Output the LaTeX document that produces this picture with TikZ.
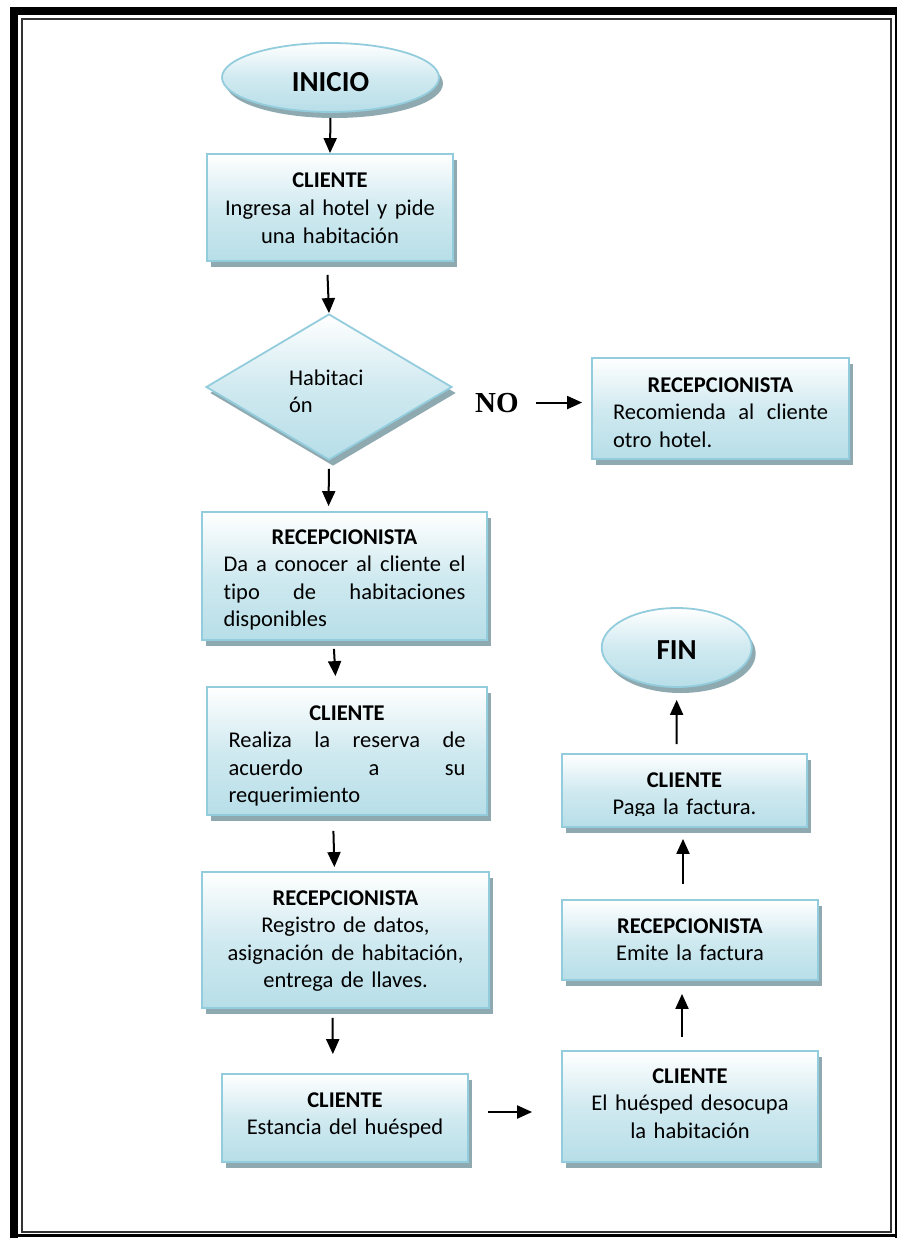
\documentclass[tikz,border=0pt]{standalone}
\usepackage{fontspec}
\setmainfont{Carlito}[Ligatures=NoCommon]
\newfontfamily\serifbold{Liberation Serif}
\usetikzlibrary{shapes.geometric,shadows,arrows.meta}

\definecolor{boxedge}{HTML}{93CDDD}
\definecolor{boxbot}{HTML}{B7DEE8}
\colorlet{boxmid}{boxbot!65!white}
\definecolor{boxshadow}{RGB}{142,169,176}

% one line of text spread over the full width of its paragraph
\newcommand{\fullline}[1]{\leavevmode\hbox to \linewidth{#1}}
% one line of text set flush left
\newcommand{\leftpart}[1]{\makebox[\linewidth][l]{#1}}

\tikzset{
  boxfont/.style={font=\fontsize{22.5pt}{27.6pt}\selectfont},
  flowshape/.style={draw=boxedge, line width=1.8pt, inner sep=0pt,
    top color=white, bottom color=boxbot, middle color=boxmid,
    general shadow={fill=boxshadow, shadow xshift=4pt, shadow yshift=-6pt}},
  procbox/.style={flowshape, rectangle, boxfont, align=center, text height=0pt},
  terminal/.style={flowshape, ellipse, font=\bfseries\fontsize{29pt}{34pt}\selectfont, text depth=0pt},
  decision/.style={flowshape, diamond, boxfont, align=left, text height=0pt},
  boxtext/.style={boxfont, align=center, inner sep=0pt, text height=0pt},
  arr/.style={line width=2pt, -{Triangle[length=15pt,width=13pt]}},
  frameline/.style={line width=2pt, black!80}
}

\begin{document}
\begin{tikzpicture}[x=1pt, y=-1pt]
\useasboundingbox (0,0) rectangle (897,1238);

% page frame: heavy outer rule on left and top, light outer rule on right and bottom, thin inner rule
\fill (10,7) rectangle (18,1238);
\fill (10,7) rectangle (897,15);
\draw[line width=2pt] (896,7) -- (896,1238);
\draw[line width=2.5pt] (10,1235.5) -- (897,1235.5);
\draw[frameline] (21.5,19.5) rectangle (891,1231.5);

% start / end
\node[terminal, minimum width=217pt, minimum height=69pt, text height=28.4pt] (ini) at (330.5,77.5) {INICIO};
\node[terminal, minimum width=150pt, minimum height=79pt, text height=23.6pt] (fin) at (676.7,647.5) {FIN};

% left column
\node[procbox, minimum width=246pt, minimum height=107pt, text width=230pt, text depth=39pt] (b1) at (330,207.5)
  {\textbf{CLIENTE}\\Ingresa al hotel y pide\\una habitación};

\node[decision, minimum width=246pt, minimum height=146pt, text width=80pt, text depth=4pt] (dia) at (329,387)
  {Habitaci\\ón};

\node[procbox, minimum width=285pt, minimum height=128pt, text width=242pt, text depth=64pt] (b2) at (344.5,576)
  {\textbf{RECEPCIONISTA}\\\fullline{Da \hfil a \hfil conocer \hfil al \hfil cliente \hfil el}\\\fullline{tipo \hfil de \hfil habitaciones}\\\leftpart{disponibles}};

\node[procbox, minimum width=280pt, minimum height=128pt] (b3) at (347,751) {};
\begin{scope}
  \clip ([yshift=10pt]b3.south west) rectangle (b3.north east);
  \node[boxtext, text width=237pt, text depth=62pt] (b3text) at (b3.center)
    {\textbf{CLIENTE}\\\fullline{Realiza \hfil la \hfil reserva \hfil de}\\\fullline{acuerdo \hfil a \hfil su}\\\leftpart{requerimiento}};
\end{scope}

\node[procbox, minimum width=287pt, minimum height=136pt, text width=270pt, text depth=70pt] (b4) at (345.5,940)
  {\textbf{RECEPCIONISTA}\\Registro de datos,\\asignación de habitación,\\entrega de llaves.};

\node[procbox, minimum width=246pt, minimum height=88pt, text width=230pt, text depth=22pt] (b5) at (345,1118)
  {\textbf{CLIENTE}\\Estancia del huésped};

% right column
\node[font=\serifbold\bfseries\fontsize{29pt}{34pt}\selectfont, anchor=base west, inner sep=0pt] (no) at (475,412) {NO};

\node[procbox, minimum width=257pt, minimum height=101pt, text width=215pt, text depth=33pt] (rb) at (720.5,408.5)
  {\textbf{RECEPCIONISTA}\\\fullline{Recomienda \hfil al \hfil cliente}\\\leftpart{otro hotel.}};

\node[procbox, minimum width=256pt, minimum height=111pt, text width=240pt, text depth=47pt] (b6) at (690,1106.5)
  {\textbf{CLIENTE}\\El huésped desocupa\\la habitación};

\node[procbox, minimum width=256pt, minimum height=80pt, text width=240pt, text depth=14pt] (b7) at (690,940)
  {\textbf{RECEPCIONISTA}\\Emite la factura};

\node[procbox, minimum width=245pt, minimum height=73pt] (b8) at (684.5,790.5) {};
\begin{scope}
  \clip ([yshift=12pt]b8.south west) rectangle (b8.north east);
  \node[boxtext, text width=230pt, text depth=7pt] (b8text) at (b8.center)
    {\textbf{CLIENTE}\\Paga la factura.};
\end{scope}

% connectors
\draw[arr, shorten <=5pt] (ini.south) -- (b1.north);
\draw[arr, shorten <=13pt] ([xshift=-3pt]b1.south) -- (dia.north);
\draw[arr, shorten <=8pt, shorten >=5pt] (dia.south) -- ([xshift=-16pt]b2.north);
\draw[arr, shorten <=8pt, shorten >=10pt] ([xshift=-11pt]b2.south) -- ([xshift=-11pt]b3.north);
\draw[arr, shorten <=15pt, shorten >=4pt] ([xshift=-14pt]b3.south) -- ([xshift=-11pt]b4.north);
\draw[arr, shorten <=9pt, shorten >=19pt] ([xshift=-13pt]b4.south) -- ([xshift=-12pt]b5.north);
\draw[arr, shorten <=19pt, shorten >=29pt] ([yshift=6pt]b5.east) -- ([yshift=6pt]b5.east -| b6.west);
\draw[arr, shorten <=13pt, shorten >=13pt] ([xshift=-8pt]b6.north) -- ([xshift=-8pt]b7.south);
\draw[arr, shorten <=15pt, shorten >=11pt] ([xshift=-7pt]b7.north) -- ([xshift=-1.5pt]b8.south);
\draw[arr, shorten <=9pt, shorten >=12pt] ([xshift=-8pt]b8.north) -- (fin.south);
\draw[arr, shorten <=17pt, shorten >=9pt] (no.east) -- (no.east -| rb.west);
\end{tikzpicture}
\end{document}
